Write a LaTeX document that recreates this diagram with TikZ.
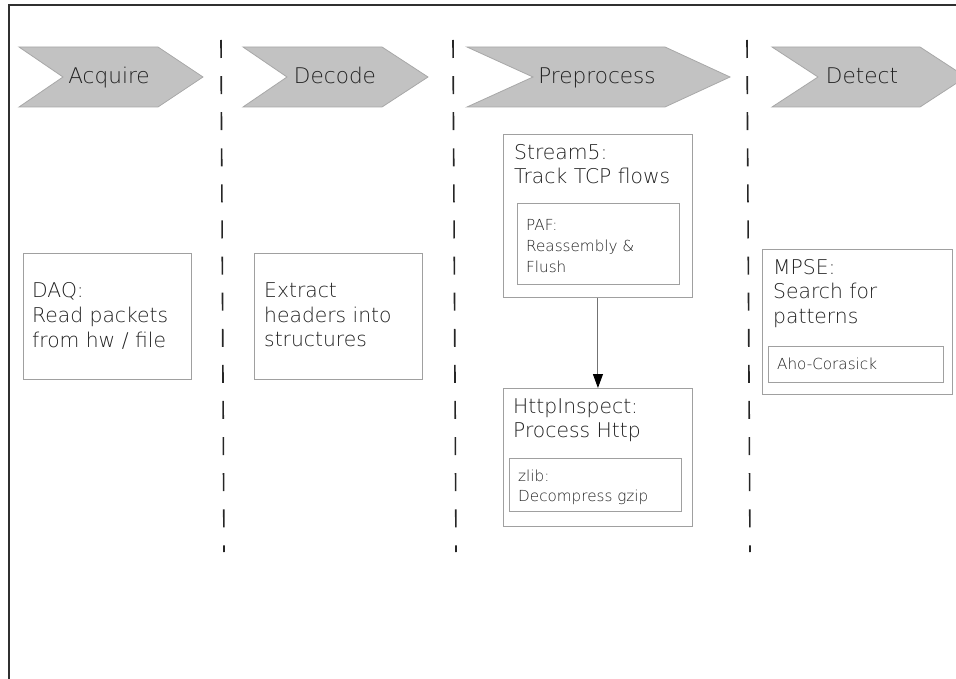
\documentclass[tikz,border=0pt]{standalone}
\usepackage{fontspec}
\usetikzlibrary{arrows.meta}
\IfFontExistsTF{DejaVu Sans ExtraLight}
  {\setmainfont{DejaVu Sans ExtraLight}\definecolor{txt}{HTML}{202020}}
  {\setmainfont{DejaVu Sans}\definecolor{txt}{HTML}{3A3A3A}}
\definecolor{chevfill}{HTML}{C2C2C2}
\definecolor{chevedge}{HTML}{A8A8A8}
\definecolor{boxedge}{HTML}{A0A0A0}
\definecolor{framec}{HTML}{303030}
\tikzset{
  chev/.style={fill=chevfill, draw=chevedge, line width=0.8pt},
  chevlabel/.style={anchor=base, inner sep=0pt, text=txt, font=\fontsize{21.6}{26}\selectfont},
  box/.style={draw=boxedge, line width=0.9pt, anchor=north west, inner sep=0pt},
  bigtext/.style={anchor=north west, inner sep=0pt, align=left, text=txt, font=\fontsize{20.3}{24.7}\selectfont},
  smalltext/.style={anchor=north west, inner sep=0pt, align=left, text=txt, font=\fontsize{15.2}{20.8}\selectfont},
  divider/.style={draw=black!85, line width=1.6pt, dash pattern=on 18pt off 18.1pt},
  frameline/.style={draw=framec, line width=1.4pt},
  flow/.style={draw=black!55, line width=1pt, -{Triangle[length=14pt,width=10pt,color=black]}}
}
\begin{document}
\begin{tikzpicture}[x=1pt, y=-1pt]
\useasboundingbox (0,0) rectangle (956,679);
% frame
\coordinate (fa) at (9,5);
\coordinate (fb) at (956,5);
\coordinate (fc) at (9,679);
\draw[frameline] (fb) -- (fa) -- (fc);
% chevrons
\draw[chev] (19,47) -- (158,47) -- (203,77) -- (158,107) -- (19,107) -- (63,77) -- cycle;
\node[chevlabel] (acquire) at (109,84) {Acquire};
\draw[chev] (243,47) -- (382,47) -- (428,77) -- (382,107) -- (243,107) -- (287,77) -- cycle;
\node[chevlabel] (decode) at (335,84) {Decode};
\draw[chev] (467,47) -- (665,47) -- (730,77) -- (665,107) -- (467,107) -- (533,77) -- cycle;
\node[chevlabel] (preprocess) at (597,84) {Preprocess};
\draw[chev] (772,47) -- (920,47) -- (966,77) -- (920,107) -- (772,107) -- (818,77) -- cycle;
\node[chevlabel] (detect) at (862,84) {Detect};
% dividers
\coordinate (d1a) at (221,40); \coordinate (d1b) at (224,552);
\coordinate (d2a) at (453,40); \coordinate (d2b) at (456,552);
\coordinate (d3a) at (747,40); \coordinate (d3b) at (750,552);
\draw[divider] (d1a) -- (d1b);
\draw[divider] (d2a) -- (d2b);
\draw[divider] (d3a) -- (d3b);
% Acquire box
\node[box, minimum width=168pt, minimum height=126pt] (daq) at (23,253) {};
\node[bigtext] (daqtext) at (32,282.5) {DAQ:\\Read packets\\from hw / file};
% Decode box
\node[box, minimum width=168pt, minimum height=126pt] (extract) at (254,253) {};
\node[bigtext] (extracttext) at (264,282.5) {Extract\\headers into\\structures};
% Stream5
\node[box, minimum width=189pt, minimum height=163pt] (stream) at (503,134) {};
\node[bigtext] (streamtext) at (514,144) {Stream5:\\Track TCP flows};
\node[box, minimum width=162pt, minimum height=81pt] (paf) at (517,203) {};
\node[smalltext] (paftext) at (526,219.5) {PAF:\\Reassembly \&\\Flush};
% HttpInspect
\node[box, minimum width=189pt, minimum height=138pt] (http) at (503,388) {};
\node[bigtext] (httptext) at (513,398) {HttpInspect:\\Process Http};
\node[box, minimum width=172pt, minimum height=53pt] (zlib) at (509,458) {};
\node[smalltext, font=\fontsize{15.2}{20}\selectfont] (zlibtext) at (518,470) {zlib:\\Decompress gzip};
% MPSE
\node[box, minimum width=190pt, minimum height=145pt] (mpse) at (762,249) {};
\node[bigtext] (mpsetext) at (773,259) {MPSE:\\Search for\\patterns};
\node[box, minimum width=175pt, minimum height=36pt] (aho) at (768,346) {};
\node[smalltext] (ahotext) at (777,357.5) {Aho-Corasick};
% arrow
\draw[flow] (stream.south) -- (http.north);
\end{tikzpicture}
\end{document}
